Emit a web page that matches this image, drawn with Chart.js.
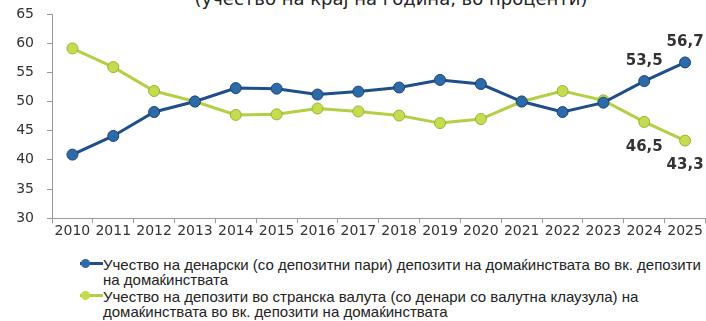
<!DOCTYPE html>
<html>
<head>
<meta charset="utf-8">
<script src="https://cdn.jsdelivr.net/npm/chart.js@4.4.1/dist/chart.umd.min.js"></script>
<style>
  html, body { margin: 0; padding: 0; background: #fff; }
  #wrap { position: relative; width: 706px; height: 321px; overflow: hidden; }
  #title {
    position: absolute; top: -12px; left: 0; width: 782px; text-align: center;
    font: 18px "DejaVu Sans", sans-serif; color: #222; white-space: nowrap;
  }
  #box { position: absolute; top: 0; left: 0; width: 712px; height: 240px; }
  .legend { position: absolute; left: 80px; font: 15px "Liberation Sans", sans-serif; color: #222; line-height: 15px; white-space: nowrap; }
  .legend .key { position: absolute; left: 0; top: 2px; width: 23px; height: 10px; }
  .legend .key .ln { position: absolute; left: 0; top: 3px; width: 23px; height: 3px; }
  .legend .key .dot { position: absolute; left: 1px; top: 0; width: 9px; height: 9px; border-radius: 50%; }
  .legend .txt { margin-left: 23px; }
</style>
</head>
<body>
<div id="wrap">
  <div id="title">(учество на крај на година, во проценти)</div>
  <div id="box"><canvas id="shareChart"></canvas></div>
  <div class="legend" style="top:257px">
    <div class="key"><div class="ln" style="background:#1f4f8a"></div><div class="dot" style="background:#2c6aa8"></div></div>
    <div class="txt">Учество на денарски (со депозитни пари) депозити на домаќинствата во вк. депозити<br>на домаќинствата</div>
  </div>
  <div class="legend" style="top:289px">
    <div class="key"><div class="ln" style="background:#b3cf45"></div><div class="dot" style="background:#c4dc4e"></div></div>
    <div class="txt">Учество на депозити во странска валута (со денари со валутна клаузула) на<br>домаќинствата во вк. депозити на домаќинствата</div>
  </div>
</div>
<script>
// ===== data =====
const years = ['2010', '2011', '2012', '2013', '2014', '2015', '2016', '2017',
               '2018', '2019', '2020', '2021', '2022', '2023', '2024', '2025'];
const denarShare   = [40.9, 44.1, 48.2, 50.0, 52.3, 52.2, 51.2, 51.7, 52.4, 53.7, 53.0, 50.0, 48.2, 49.8, 53.5, 56.7];
const foreignShare = [59.1, 55.9, 51.8, 50.0, 47.7, 47.8, 48.8, 48.3, 47.6, 46.3, 47.0, 50.0, 51.8, 50.2, 46.5, 43.3];
const yTicks = [30, 35, 40, 45, 50, 55, 60, 65];

// labels on the last two points of each line
const endLabels = [
  { ds: 0, i: 14, dy: -20 },
  { ds: 0, i: 15, dy: -20 },
  { ds: 1, i: 14, dy: 25 },
  { ds: 1, i: 15, dy: 25 }
];

const pointLabels = {
  id: 'pointLabels',
  afterDatasetsDraw(chart) {
    const c = chart.ctx;
    c.save();
    c.font = 'bold 15px "DejaVu Sans", sans-serif';
    c.fillStyle = '#333';
    c.textAlign = 'center';
    c.textBaseline = 'middle';
    endLabels.forEach(l => {
      const pt = chart.getDatasetMeta(l.ds).data[l.i];
      const v = chart.data.datasets[l.ds].data[l.i];
      c.fillText(v.toFixed(1).replace('.', ','), pt.x, pt.y + l.dy);
    });
    c.restore();
  }
};

const ctx = document.getElementById('shareChart');

new Chart(ctx, {
  type: 'line',
  data: {
    labels: years,
    datasets: [{
      label: 'denar',
      data: denarShare,
      borderColor: '#1f4f8a',
      borderWidth: 3,
      pointBackgroundColor: '#2c6aa8',
      pointBorderColor: '#1b4677',
      pointBorderWidth: 1,
      pointRadius: 5.5,
      tension: 0
    }, {
      label: 'foreign',
      data: foreignShare,
      borderColor: '#b3cf45',
      borderWidth: 3,
      pointBackgroundColor: '#c4dc4e',
      pointBorderColor: '#97b432',
      pointBorderWidth: 1,
      pointRadius: 5.5,
      tension: 0
    }]
  },
  options: {
    responsive: true,
    maintainAspectRatio: false,
    animation: false,
    layout: { padding: { top: 0, right: 0, left: 16, bottom: 0 } },
    plugins: {
      legend: { display: false },
      tooltip: { enabled: false }
    },
    scales: {
      x: {
        offset: true,
        grid: { offset: true, drawOnChartArea: false, tickLength: 5, color: '#999' },
        border: { color: '#999', width: 1 },
        ticks: { color: '#333', font: { family: 'DejaVu Sans', size: 14 }, padding: 0, maxRotation: 0, autoSkip: false }
      },
      y: {
        min: 30,
        max: 65,
        afterBuildTicks: axis => { axis.ticks = yTicks.map(v => ({ value: v })); },
        afterFit: axis => { axis.width = 36; axis.paddingTop = 14; axis.paddingBottom = 8; },
        grid: { drawOnChartArea: false, tickLength: 5, color: '#999' },
        border: { color: '#999', width: 1 },
        ticks: { color: '#333', font: { family: 'DejaVu Sans', size: 14 }, padding: 13 }
      }
    }
  },
  plugins: [pointLabels]
});
</script>
</body>
</html>
